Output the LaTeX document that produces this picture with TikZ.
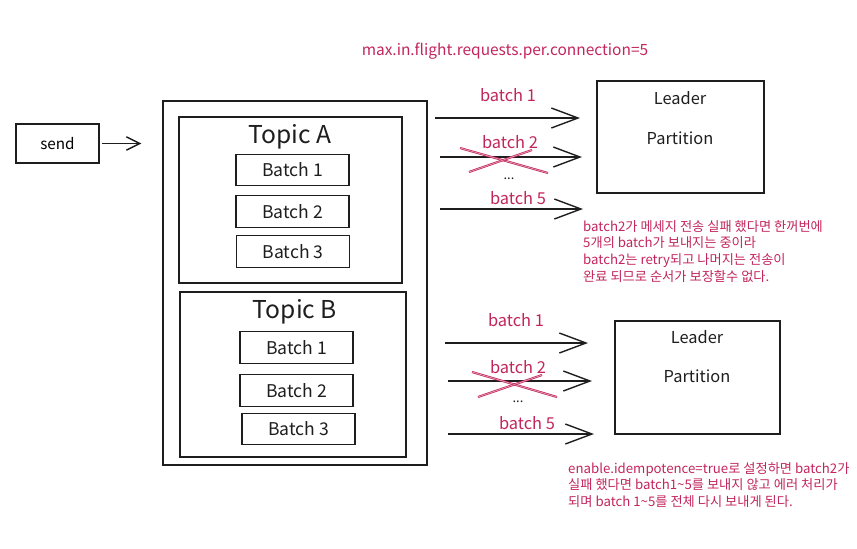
\documentclass[tikz,border=0pt]{standalone}
\usepackage{fontspec}
\setmainfont{Noto Sans CJK KR}
\usetikzlibrary{arrows.meta,positioning}
\definecolor{exInk}{HTML}{1e1e1e}
\definecolor{exPink}{HTML}{c2255c}
\tikzset{
  >={Straight Barb[length=8mm,width=6mm]},
  frame/.style={draw=exInk, line width=1.1pt, inner sep=0pt},
  batchbox/.style={frame, minimum width=3.39cm, minimum height=0.94cm,
              font=\fontsize{15}{15}\selectfont, text=exInk},
  topic/.style={font=\fontsize{21}{21}\selectfont, text=exInk},
  part/.style={font=\fontsize{14}{14}\selectfont, text=exInk},
  lbl/.style={font=\fontsize{14}{14}\selectfont, text=exPink},
  note/.style={font=\fontsize{11.3}{14.3}\selectfont, text=exPink, align=left,
              anchor=north west, inner sep=0pt},
  flow/.style={->, draw=exInk, line width=1.2pt},
  sendflow/.style={-{Straight Barb[length=4mm,width=4mm]}, draw=exInk, line width=1.2pt},
  strike/.style={draw=exPink, line width=0.6pt, double=exPink!45, double distance=0.6pt},
}

\begin{document}
\begin{tikzpicture}[x=0.03cm,y=-0.03cm]
    \useasboundingbox (0,0) rectangle (857,548);
    % title
    \node[lbl,font=\fontsize{13.2}{13.2}\selectfont] (title) at (505,51)
          {max.in.flight.requests.per.connection=5};
    % producer side
    \node[frame,minimum width=2.49cm,minimum height=1.17cm,
          font=\fontsize{13}{13}\selectfont] (send) at (57.5,143.5) {send};
    \node[frame,minimum width=7.92cm,minimum height=10.92cm] (acc) at (295,283) {};
    \node[frame,minimum width=6.69cm,minimum height=4.98cm] (topA) at (290.5,200) {};
    \node[frame,minimum width=6.78cm,minimum height=4.95cm] (topB) at (293,374.5) {};
    \node[topic] (topAlbl) at (290,137) {Topic A};
    \node[topic] (topBlbl) at (295,312) {Topic B};
    \foreach \b/\x/\y in {1/292.5/170, 2/292.5/211.5, 3/293/251.5}{
      \node[batchbox] (a\b) at (\x,\y) {Batch \b};}
    \foreach \b/\x/\y in {1/296.5/347.5, 2/296.5/390.5, 3/298.5/429}{
      \node[batchbox] (b\b) at (\x,\y) {Batch \b};}
    \draw[sendflow,shorten <=2pt] (send.east) -- ([xshift=-21*0.03cm]send.east -| acc.west);
    % broker side
    \node[frame,minimum width=5.01cm,minimum height=3.36cm] (ldrA) at (680.5,137) {};
    \node[frame,minimum width=4.95cm,minimum height=3.39cm] (ldrB) at (697.5,377.5) {};
    \node[part] (ldrAlbl) at (680,98) {Leader};
    \node[part] (ldrAprt) at (680,138) {Partition};
    \node[part] (ldrBlbl) at (697,337) {Leader};
    \node[part] (ldrBprt) at (697,376) {Partition};
    % in-flight batches
    \foreach \k/\xa/\xb/\y/\lx/\ly/\t in {a1/435/580/118/508/95/1, a2/440/582/157/510/142/2,
        a5/440/583/209/518/198/5, b1/445/588/343/516/320/1, b2/448/592/381/518/367/2,
        b5/448/594/434/527/423/5}{
      \coordinate (\k-s) at (\xa,\y);
      \coordinate (\k-e) at (\xb,\y);
      \draw[flow] (\k-s) -- (\k-e);
      \node[lbl] (\k-l) at (\lx,\ly) {batch \t};
    }
    \node[part,font=\fontsize{11}{11}\selectfont] (dotsA) at (509,179) {...};
    \node[part,font=\fontsize{11}{11}\selectfont] (dotsB) at (518,402) {...};
    % failed batch 2
    \draw[strike] (460,148) -- (548,173);
    \draw[strike] (469,172) -- (532,150);
    \draw[strike] (472,372) -- (557,397);
    \draw[strike] (478,397) -- (542,375);
    % notes
    \node[note] (noteA) at (583,220) {batch2가 메세지 전송 실패 했다면 한꺼번에\\
          5개의 batch가 보내지는 중이라\\
          batch2는 retry되고 나머지는 전송이\\
          완료 되므로 순서가 보장할수 없다.};
    \node[note] (noteB) at (568,462) {enable.idempotence=true로 설정하면 batch2가\\
          실패 했다면 batch1\textasciitilde5를 보내지 않고 에러 처리가\\
          되며 batch 1\textasciitilde5를 전체 다시 보내게 된다.};
  \end{tikzpicture}
\end{document}
